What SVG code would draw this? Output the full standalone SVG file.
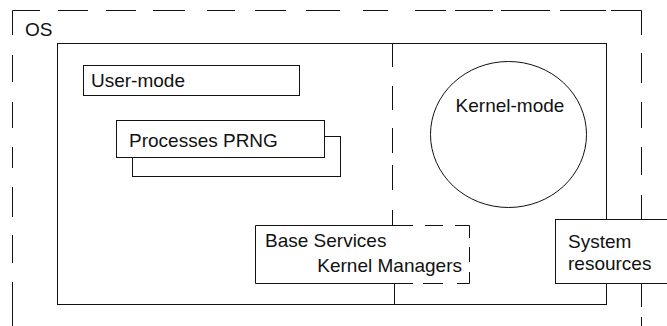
<svg xmlns="http://www.w3.org/2000/svg" width="667" height="326" viewBox="0 0 667 326">
<style>
.ln{fill:none;stroke:#111;stroke-width:1}
.box{fill:#fff;stroke:#111;stroke-width:1}
.t{font-family:"Liberation Sans",Arial,sans-serif;font-size:19px;fill:#111}
</style>
<rect width="667" height="326" fill="#fff"/>
<g id="os">
<path class="ln" d="M12.5,35 V10.5 H40 M58,10.5 H88 M106,10.5 H136 M153,10.5 H185 M207,10.5 H235 M255,10.5 H286 M306,10.5 H340 M363,10.5 H388 M415,10.5 H446 M455,10.5 H493 M501,10.5 H550 M560,10.5 H606 M611,10.5 H641.5 V35 M641.5,53 V83 M641.5,102 V128 M641.5,147 V175 M641.5,195 V220 M641.5,284 V307 M641.5,317 V326 M12.5,55 V82 M12.5,102 V128 M12.5,147 V168 M12.5,187 V217 M12.5,235 V263 M12.5,282 V326"/>
<text class="t" x="25" y="36">OS</text>
</g>
<g id="system">
<rect class="ln" x="57.5" y="43.5" width="549" height="261"/>
</g>
<g id="connectors">
<path class="ln" d="M392.5,44 V67 M392.5,86 V110 M392.5,128 V153 M392.5,165 V190 M392.5,210 V225.5"/>
<path class="ln" d="M394.5,283.5 V304.5"/>
</g>
<g id="user-mode">
<rect class="box" x="83.5" y="65.5" width="216" height="30"/>
<text class="t" x="91" y="87">User-mode</text>
</g>
<g id="processes-prng">
<rect class="box" x="132.5" y="136.5" width="208" height="40"/>
<rect class="box" x="116.5" y="120.5" width="208" height="37"/>
<text class="t" x="129" y="146.5">Processes PRNG</text>
</g>
<g id="kernel-mode">
<ellipse class="box" cx="508.5" cy="134.5" rx="78" ry="73"/>
<text class="t" x="510" y="112" text-anchor="middle">Kernel-mode</text>
</g>
<g id="base-services">
<rect x="255.5" y="225.5" width="214" height="58" fill="#fff"/>
<path class="ln" d="M413,225.5 H255.5 V283.5 H413"/>
<path class="ln" d="M425,225.5 H443 M455,225.5 H469.5 V238 M469.5,247 V262 M469.5,272 V283.5 H457 M443,283.5 H423"/>
<text class="t" x="265" y="247">Base Services</text>
<text class="t" x="462" y="272" text-anchor="end">Kernel Managers</text>
</g>
<g id="system-resources">
<rect class="box" x="555.5" y="219.5" width="130" height="64"/>
<text class="t" x="568" y="248">System</text>
<text class="t" x="568" y="270">resources</text>
</g>
</svg>
